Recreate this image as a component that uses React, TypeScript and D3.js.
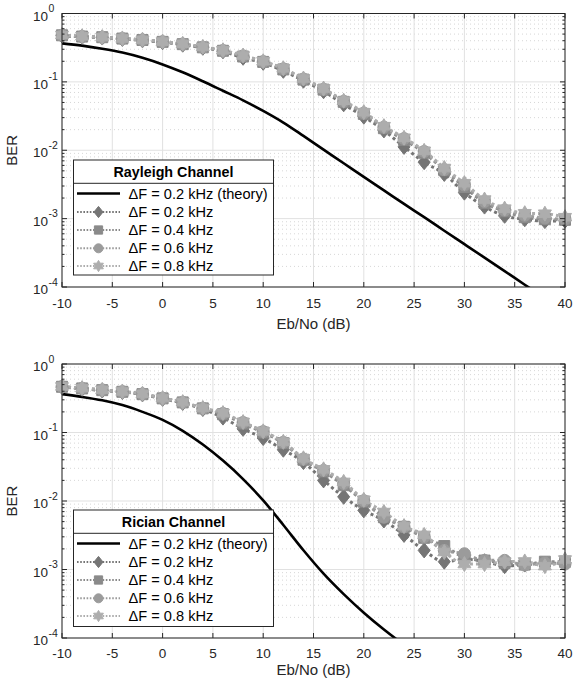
import React from "react";
import * as d3 from "d3";

const ebno = [-10, -8, -6, -4, -2, 0, 2, 4, 6, 8, 10, 12, 14, 16, 18, 20, 22, 24, 26, 28, 30, 32, 34, 36, 38, 40];

const rayTheory = [0.366, 0.339, 0.305, 0.268, 0.225, 0.18, 0.138, 0.102, 0.0741, 0.0537, 0.0376, 0.0254, 0.0162, 0.0102, 0.00646, 0.00407, 0.00259, 0.00164, 0.00105, 0.000665, 0.000423, 0.000269, 0.000171, 0.000108, 0.0000689, 0.0000437];
const ray02 = [0.475, 0.455, 0.445, 0.425, 0.405, 0.38, 0.35, 0.315, 0.28, 0.225, 0.19, 0.145, 0.104, 0.073, 0.047, 0.031, 0.0195, 0.0112, 0.0067, 0.0045, 0.0024, 0.0015, 0.0011, 0.00098, 0.00092, 0.00093];
const ray04 = [0.48, 0.46, 0.45, 0.43, 0.41, 0.385, 0.356, 0.32, 0.285, 0.235, 0.196, 0.152, 0.108, 0.077, 0.051, 0.034, 0.021, 0.0142, 0.0092, 0.0051, 0.0029, 0.0017, 0.00128, 0.00105, 0.00098, 0.00096];
const ray06 = [0.48, 0.46, 0.45, 0.43, 0.41, 0.386, 0.358, 0.322, 0.287, 0.24, 0.198, 0.155, 0.11, 0.078, 0.052, 0.035, 0.0218, 0.0148, 0.0096, 0.0052, 0.0031, 0.00178, 0.00133, 0.00112, 0.00102, 0.00098];
const ray08 = [0.485, 0.465, 0.452, 0.432, 0.412, 0.388, 0.36, 0.325, 0.29, 0.243, 0.2, 0.158, 0.112, 0.08, 0.053, 0.036, 0.0225, 0.0152, 0.0098, 0.0055, 0.0033, 0.0019, 0.0014, 0.0012, 0.00118, 0.00105];

const ricTheory = [0.363, 0.331, 0.295, 0.251, 0.2, 0.153, 0.106, 0.0668, 0.0389, 0.0209, 0.0102, 0.00447, 0.00191, 0.00087, 0.000437, 0.000234, 0.000133, 0.0000794, 0.000049, 0.0000316, 0.00002, 0.000013, 0.0000085, 0.0000056, 0.0000037, 0.0000025];
const ric02 = [0.46, 0.435, 0.41, 0.39, 0.36, 0.31, 0.27, 0.22, 0.165, 0.113, 0.083, 0.056, 0.037, 0.02, 0.0115, 0.0073, 0.0052, 0.0032, 0.0019, 0.0013, 0.0014, 0.00132, 0.00112, 0.00118, 0.00122, 0.00125];
const ric04 = [0.465, 0.44, 0.415, 0.393, 0.363, 0.315, 0.275, 0.225, 0.185, 0.135, 0.1, 0.07, 0.04, 0.027, 0.017, 0.0098, 0.0058, 0.0042, 0.0029, 0.0022, 0.0015, 0.00135, 0.00125, 0.00118, 0.0013, 0.0013];
const ric06 = [0.467, 0.442, 0.418, 0.395, 0.365, 0.316, 0.276, 0.226, 0.19, 0.14, 0.103, 0.072, 0.041, 0.028, 0.018, 0.0101, 0.0058, 0.0042, 0.003, 0.0019, 0.0017, 0.00136, 0.00136, 0.00116, 0.00125, 0.0012];
const ric08 = [0.47, 0.445, 0.42, 0.397, 0.367, 0.318, 0.278, 0.228, 0.192, 0.142, 0.104, 0.073, 0.042, 0.029, 0.019, 0.0104, 0.0069, 0.0043, 0.0032, 0.0018, 0.0012, 0.0012, 0.0013, 0.00131, 0.00112, 0.0014];

const seriesLabels = ["ΔF = 0.2 kHz", "ΔF = 0.4 kHz", "ΔF = 0.6 kHz", "ΔF = 0.8 kHz"];
const theoryLabel = "ΔF = 0.2 kHz (theory)";
const xTicks = [-10, -5, 0, 5, 10, 15, 20, 25, 30, 35, 40];
const yDecades = [0, -1, -2, -3, -4];
const channelTitles = ["Rayleigh Channel", "Rician Channel"];

const colors = ["#757575", "#8a8a8a", "#9b9b9b", "#adadad"];
const markerKinds = ["diamond", "square", "circle", "hexagram"];
const FONT = "'Liberation Sans', Arial, Helvetica, sans-serif";
const FS_TICK = 13.5;
const FS_LEG = 14.6;
const FS_LABEL = 15;

function markerPath(kind: string, cx: number, cy: number, k = 1): string {
  if (kind === "diamond") {
    const w = 6 * k, h = 7.5 * k;
    return `M${cx},${cy - h}L${cx + w},${cy}L${cx},${cy + h}L${cx - w},${cy}Z`;
  }
  if (kind === "square") {
    const s = 5.5 * k;
    return `M${cx - s},${cy - s}H${cx + s}V${cy + s}H${cx - s}Z`;
  }
  if (kind === "circle") {
    const r = 6 * k;
    return `M${cx - r},${cy}A${r},${r} 0 1,0 ${cx + r},${cy}A${r},${r} 0 1,0 ${cx - r},${cy}Z`;
  }
  const R = 7.5 * k, r = R / Math.sqrt(3);
  const pts: string[] = [];
  for (let i = 0; i < 12; i++) {
    const a = (Math.PI / 6) * i - Math.PI / 2;
    const rr = i % 2 === 0 ? R : r;
    pts.push(`${cx + rr * Math.cos(a)},${cy + rr * Math.sin(a)}`);
  }
  return "M" + pts.join("L") + "Z";
}

function Panel({ idx, top, bottom, theory, series, legendTop, legendH, xlabelOffset, tickOffset }: any) {
  const left = 62, right = 565;
  const x = d3.scaleLinear().domain([-10, 40]).range([left, right]);
  const y = d3.scaleLog().domain([1e-4, 1]).range([bottom, top]);
  const line = d3
    .line<[number, number]>()
    .x((d) => x(d[0]))
    .y((d) => y(d[1]))
    .curve(d3.curveMonotoneX);
  const clipId = `clip${idx}`;
  const minor: number[] = [];
  for (let e = -4; e < 0; e++) for (let m = 2; m <= 9; m++) minor.push(m * Math.pow(10, e));
  const lx = 73.5, lw = 200;
  const rowY = [33.5, 52, 70, 88.3, 106];
  return (
    <g fontFamily={FONT}>
      <defs>
        <clipPath id={clipId}>
          <rect x={left} y={top} width={right - left} height={bottom - top} />
        </clipPath>
      </defs>
      <rect x={left} y={top} width={right - left} height={bottom - top} fill="#fff" />
      {minor.map((v, i) => (
        <line key={"mg" + i} x1={left} x2={right} y1={y(v)} y2={y(v)} stroke="#cdcdcd" strokeWidth={0.8} strokeDasharray="1,3" />
      ))}
      {xTicks.map((t) => (
        <line key={"xg" + t} x1={x(t)} x2={x(t)} y1={top} y2={bottom} stroke="#e1e1e1" strokeWidth={1} />
      ))}
      {yDecades.map((e) => (
        <line key={"yg" + e} x1={left} x2={right} y1={y(Math.pow(10, e))} y2={y(Math.pow(10, e))} stroke="#e1e1e1" strokeWidth={1} />
      ))}
      <g clipPath={`url(#${clipId})`}>
        <path d={line(ebno.map((v, i) => [v, theory[i]]) as any) || ""} fill="none" stroke="#000" strokeWidth={2.6} />
      </g>
      {series.map((s: number[], si: number) => (
        <path key={"s" + si} d={line(ebno.map((v, i) => [v, s[i]]) as any) || ""} fill="none" stroke={colors[si]} strokeWidth={3} strokeDasharray="3,3" />
      ))}
      {series.map((s: number[], si: number) => (
        <g key={"m" + si}>
          {ebno.map((v, i) => (
            <path key={i} d={markerPath(markerKinds[si], x(v), y(s[i]))} fill={colors[si]} stroke={colors[si]} strokeWidth={1} />
          ))}
        </g>
      ))}
      <rect x={left} y={top} width={right - left} height={bottom - top} fill="none" stroke="#262626" strokeWidth={1} />
      {xTicks.map((t) => (
        <g key={"xt" + t}>
          <line x1={x(t)} x2={x(t)} y1={bottom} y2={bottom - 5} stroke="#262626" />
          <line x1={x(t)} x2={x(t)} y1={top} y2={top + 5} stroke="#262626" />
          <text x={x(t)} y={bottom + tickOffset} fontSize={FS_TICK} textAnchor="middle" fill="#262626">{t}</text>
        </g>
      ))}
      {yDecades.map((e) => (
        <g key={"yt" + e}>
          <line x1={left} x2={left + 5} y1={y(Math.pow(10, e))} y2={y(Math.pow(10, e))} stroke="#262626" />
          <line x1={right} x2={right - 5} y1={y(Math.pow(10, e))} y2={y(Math.pow(10, e))} stroke="#262626" />
          <text x={48} y={y(Math.pow(10, e)) + 7} fontSize={FS_TICK} textAnchor="end" fill="#262626">10</text>
          <text x={48.5} y={y(Math.pow(10, e)) - 1.5} fontSize={10.5} textAnchor="start" fill="#262626">{e}</text>
        </g>
      ))}
      {minor.map((v, i) => (
        <g key={"mt" + i}>
          <line x1={left} x2={left + 2.5} y1={y(v)} y2={y(v)} stroke="#262626" />
          <line x1={right} x2={right - 2.5} y1={y(v)} y2={y(v)} stroke="#262626" />
        </g>
      ))}
      <text x={(left + right) / 2} y={bottom + xlabelOffset} fontSize={FS_LABEL} textAnchor="middle" fill="#262626">Eb/No (dB)</text>
      <text transform={`translate(17,${(top + bottom) / 2}) rotate(-90)`} fontSize={FS_LABEL} textAnchor="middle" fill="#262626">BER</text>
      <g>
        <rect x={lx} y={legendTop} width={lw} height={legendH} fill="#fff" stroke="#262626" strokeWidth={1} />
        <line x1={lx} x2={lx + lw} y1={legendTop + 23.3} y2={legendTop + 23.3} stroke="#262626" strokeWidth={1} />
        <text x={lx + lw / 2} y={legendTop + 17} fontSize={14.3} fontWeight="bold" textAnchor="middle" fill="#000">{channelTitles[idx]}</text>
        <line x1={77} x2={120} y1={legendTop + rowY[0]} y2={legendTop + rowY[0]} stroke="#000" strokeWidth={2.6} />
        <text x={128.5} y={legendTop + rowY[0] + 5} fontSize={FS_LEG} fill="#000">{theoryLabel}</text>
        {seriesLabels.map((lab, si) => {
          const ry = legendTop + rowY[si + 1];
          return (
            <g key={"lg" + si}>
              <line x1={77} x2={120} y1={ry} y2={ry} stroke={colors[si]} strokeWidth={2} strokeDasharray="1.6,1.6" />
              <path d={markerPath(markerKinds[si], 98.5, ry, 0.75)} fill={colors[si]} stroke={colors[si]} strokeWidth={1} />
              <text x={128.5} y={ry + 5} fontSize={FS_LEG} fill="#000">{lab}</text>
            </g>
          );
        })}
      </g>
    </g>
  );
}

export default function App() {
  return (
    <svg width={574} height={682} style={{ position: "absolute", left: 0, top: 0, background: "#fff" }}>
      <rect x={0} y={0} width={574} height={682} fill="#fff" />
      <Panel idx={0} top={13.5} bottom={287} theory={rayTheory} series={[ray02, ray04, ray06, ray08]} legendTop={160} legendH={115} xlabelOffset={42} tickOffset={20.5} />
      <Panel idx={1} top={364} bottom={638} theory={ricTheory} series={[ric02, ric04, ric06, ric08]} legendTop={510} legendH={116.5} xlabelOffset={37} tickOffset={19.5} />
    </svg>
  );
}
